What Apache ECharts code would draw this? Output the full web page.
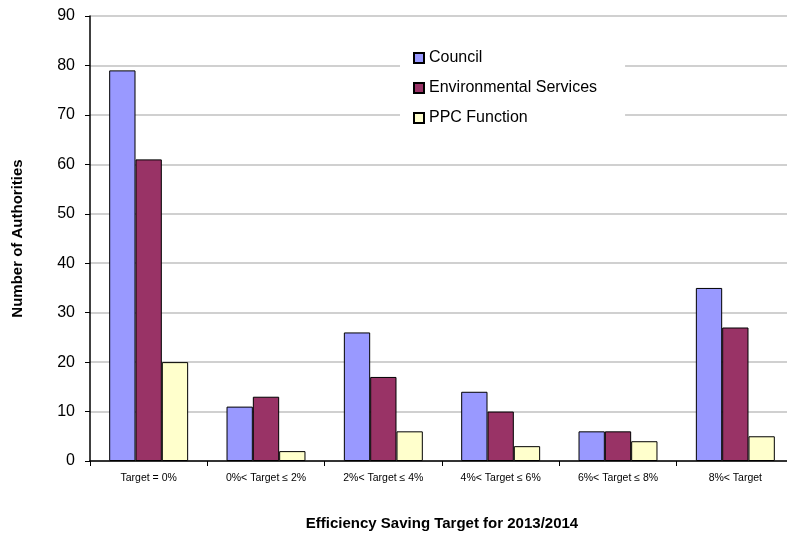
<!DOCTYPE html>
<html><head><meta charset="utf-8">
<script src="https://cdn.jsdelivr.net/npm/echarts@6/dist/echarts.min.js"></script>
<style>html,body{margin:0;padding:0;background:#fff}#c{width:787px;height:533px}</style>
</head><body><div id="c"></div>
<script>
const categories = ["Target = 0%", "0%< Target \u2264 2%", "2%< Target \u2264 4%", "4%< Target \u2264 6%", "6%< Target \u2264 8%", "8%< Target"];
const seriesNames = ["Council", "Environmental Services", "PPC Function"];
const council = [79, 11, 26, 14, 6, 35];
const envServices = [61, 13, 17, 10, 6, 27];
const ppcFunction = [20, 2, 6, 3, 4, 5];
const yTicks = { min: 0, max: 90, interval: 10 };
const colors = ["#9999FF", "#993366", "#FFFFCC"];

const chart = echarts.init(document.getElementById('c'), null, {renderer: 'canvas'});
const font = 'Arial, "Liberation Sans", sans-serif';
const mk = (name, data, i) => ({
  name, type: 'bar', data,
  barGap: '0%', barCategoryGap: '32.7%',
  itemStyle: { color: colors[i], borderColor: '#000', borderWidth: 1 },
  emphasis: { disabled: true }
});
chart.setOption({
  animation: false,
  textStyle: { fontFamily: font },
  grid: { left: 90, top: 16, width: 704, height: 445, containLabel: false, outerBoundsMode: 'none' },
  legend: {
    orient: 'vertical', left: 400, top: 42,
    padding: [8, 28, 12, 13],
    backgroundColor: '#fff',
    itemWidth: 10, itemHeight: 10, itemGap: 14,
    icon: 'rect',
    textStyle: { fontSize: 16, color: '#000', fontFamily: font },
    data: seriesNames
  },
  xAxis: {
    type: 'category', data: categories,
    name: 'Efficiency Saving Target for 2013/2014',
    nameLocation: 'middle', nameGap: 55,
    nameTextStyle: { fontSize: 15, fontWeight: 'bold', color: '#000', fontFamily: font },
    axisLine: { lineStyle: { color: '#000', width: 1.5 } },
    axisTick: { show: true, length: 5, lineStyle: { color: '#000' } },
    axisLabel: { fontSize: 10.5, color: '#000', margin: 12, interval: 0 },
    splitLine: { show: false }
  },
  yAxis: {
    type: 'value', min: yTicks.min, max: yTicks.max, interval: yTicks.interval,
    name: 'Number of Authorities',
    nameLocation: 'middle', nameGap: 65,
    nameTextStyle: { fontSize: 15, fontWeight: 'bold', color: '#000', fontFamily: font },
    axisLine: { show: true, lineStyle: { color: '#000', width: 1.5 } },
    axisTick: { show: true, length: 5, lineStyle: { color: '#000' } },
    axisLabel: { fontSize: 16, color: '#000', margin: 15 },
    splitLine: { show: true, lineStyle: { color: '#c0c0c0', width: 1.5 } }
  },
  series: [mk(seriesNames[0], council, 0), mk(seriesNames[1], envServices, 1), mk(seriesNames[2], ppcFunction, 2)]
});
</script>
</body></html>
